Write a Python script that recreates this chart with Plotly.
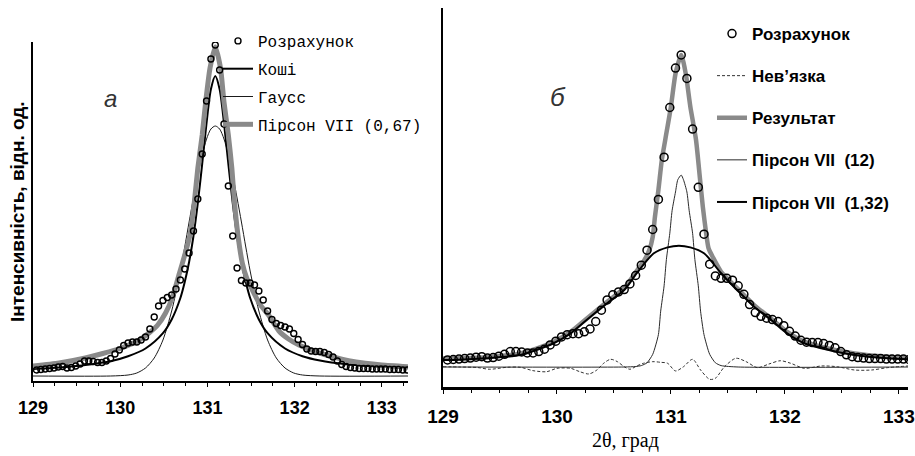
import numpy as np
import plotly.graph_objects as go

# ---------------- data (intensity in arbitrary units) ----------------
two_theta = np.round(129.04 + 0.05 * np.arange(86), 2)
rozrakhunok = [11, 11.5, 12, 12.5, 13, 14, 14.5, 13, 13.5, 15,
               17, 20, 20, 19.5, 18.5, 18.5, 20, 22.5, 27, 31,
               35.5, 38, 39, 39, 41, 44, 52, 64, 75, 80.5,
               83.5, 86, 92, 101, 112, 128, 150, 182, 227, 280,
               322, 336, 311, 257, 195, 145, 113, 100.5, 98, 98,
               96, 90, 81, 70, 61.5, 57.5, 55.5, 54, 52, 47.5,
               41.5, 36.5, 32, 30, 29.5, 29.5, 28.5, 26.5, 24, 20,
               16.5, 14.5, 13.5, 13, 12.5, 12.5, 12.5, 12, 12, 12,
               12, 11.5, 11.5, 11.5, 11, 11]

# panel a: fitted curves
koshi_x = [129.0, 129.3, 129.6, 129.9, 130.09, 130.29, 130.49, 130.59, 130.69, 130.74,
           130.79, 130.84, 130.89, 130.94, 130.99, 131.04, 131.09, 131.14, 131.19, 131.24,
           131.29, 131.34, 131.39, 131.44, 131.49, 131.59, 131.69, 131.89, 132.09, 132.29,
           132.59, 132.9, 133.3]
koshi_y = [12, 13.5, 16, 20, 24.8, 32.5, 47.8, 61.5, 83, 99,
           119, 145, 178, 217, 258, 291.7, 305, 291.7, 258, 217,
           178, 145, 119, 99, 83, 61.5, 47.8, 32.5, 24.8, 20.5,
           16.8, 14.7, 12.7]

gauss_x = [129.0, 129.89, 130.09, 130.19, 130.29, 130.39, 130.49, 130.59, 130.64, 130.69,
           130.74, 130.79, 130.84, 130.89, 130.94, 130.99, 131.04, 131.09, 131.14, 131.19,
           131.24, 131.29, 131.34, 131.39, 131.44, 131.49, 131.54, 131.59, 131.69, 131.79,
           131.89, 131.99, 132.09, 132.29, 133.3]
gauss_y = [5, 5, 6, 8, 13, 23, 41, 70, 89, 110,
           134, 159, 183, 206, 226, 242, 252, 255, 252, 242,
           226, 206, 183, 159, 134, 110, 89, 70, 41, 23,
           13, 8, 6, 5, 5]

pirson067_x = [129.0, 129.3, 129.6, 129.8, 130.0, 130.1, 130.2, 130.33, 130.43, 130.52,
               130.6, 130.68, 130.74, 130.8, 130.85, 130.89, 130.94, 130.98, 131.03, 131.09,
               131.15, 131.19, 131.24, 131.28, 131.31, 131.35, 131.4, 131.45, 131.51, 131.6,
               131.7, 131.82, 131.93, 132.05, 132.24, 132.43, 132.62, 132.81, 133.0, 133.3]
pirson067_y = [15, 18, 23, 27.5, 32.5, 36, 40, 48, 56, 68,
               84, 108, 126, 146, 179, 213, 246, 279, 313, 334,
               313, 279, 246, 213, 179, 146, 118, 103, 92, 77,
               66, 50, 42, 36, 29.3, 24.3, 20.3, 17.7, 16, 14.3]

# panel б: fitted curves
nevyazka_x = [129.0, 129.15, 129.3, 129.41, 129.56, 129.68, 129.79, 129.91, 130.0, 130.12,
              130.2, 130.28, 130.35, 130.41, 130.47, 130.53, 130.59, 130.64, 130.7, 130.76,
              130.84, 130.91, 130.97, 131.04, 131.11, 131.19, 131.26, 131.34, 131.39, 131.47,
              131.57, 131.66, 131.76, 131.86, 131.96, 132.05, 132.17, 132.32, 132.46, 132.61,
              132.76, 132.9, 133.08]
nevyazka_y = [3.8, 3.5, 3.0, 1.1, 3.2, 3.2, -0.4, -1.5, 2.1, 2.1,
              -1.5, -3.9, 0.3, 7.5, 11.7, 9.2, 3.8, 1.1, 4.6, 7.5,
              9.2, 8.5, 7.5, -0.7, 3.8, 11.7, 0.3, -9.6, -8.5, 3.8,
              12.8, 9.2, 2.8, 6.7, 10.2, 7.5, 2.1, 4.6, 3.8, 0.3,
              0.3, 2.8, 4.6]

rezultat_x = [129.0, 129.38, 129.68, 129.82, 129.97, 130.12, 130.26, 130.44, 130.59, 130.7,
              130.76, 130.81, 130.84, 130.86, 130.89, 130.92, 130.95, 131.0, 131.04, 131.09,
              131.13, 131.17, 131.22, 131.25, 131.28, 131.31, 131.33, 131.37, 131.44, 131.58,
              131.73, 131.88, 132.02, 132.17, 132.32, 132.61, 132.9, 133.08]
rezultat_y = [12.5, 14, 18, 23, 30.5, 41, 55, 73, 87.5, 106,
              116, 128, 142, 164, 192, 224, 245.5, 281, 316, 336,
              316, 281, 245.5, 210, 174, 145, 130, 120, 105, 87.5,
              69.5, 55, 41, 30.5, 25, 18, 14.5, 13.5]

pirson12_x = [129.0, 130.59, 130.69, 130.74, 130.79, 130.84, 130.89, 130.91, 130.94, 130.96,
              130.99, 131.01, 131.04, 131.06, 131.09, 131.11, 131.14, 131.16, 131.19, 131.21,
              131.24, 131.26, 131.29, 131.34, 131.39, 131.44, 131.59, 133.08]
pirson12_y = [3.5, 3.5, 4, 5, 8, 17, 38, 63, 90, 118,
              146, 170, 190, 203, 208, 203, 190, 170, 146, 118,
              90, 63, 38, 17, 8, 5, 3.5, 3.5]

pirson132_x = [129.0, 129.09, 129.38, 129.68, 129.82, 129.97, 130.12, 130.26, 130.44, 130.59,
               130.7, 130.85, 130.97, 131.07, 131.17, 131.29, 131.44, 131.58, 131.73, 131.88,
               132.02, 132.17, 132.32, 132.61, 132.9, 133.08]
pirson132_y = [11, 11, 12.8, 16.3, 21.6, 28.8, 39.4, 53.6, 71.4, 85.6,
               103.4, 124.7, 131, 132.8, 131, 124.7, 103.4, 85.6, 67.8, 53.6,
               39.4, 28.8, 23.5, 16.3, 12.8, 11.7]

W, H = 915, 456
GRAY = "#8a8a8a"

fig = go.Figure()

# ---------- panel a ----------
fig.add_trace(go.Scatter(x=gauss_x, y=gauss_y, mode="lines", name="Гаусс",
                         line=dict(color="#1a1a1a", width=1, shape="spline", smoothing=0.8),
                         legend="legend", legendgroup="a3", legendrank=3,
                         xaxis="x", yaxis="y"))
fig.add_trace(go.Scatter(x=koshi_x, y=koshi_y, mode="lines", name="Коші",
                         line=dict(color="black", width=2, shape="spline", smoothing=0.8),
                         legend="legend", legendgroup="a2", legendrank=2,
                         xaxis="x", yaxis="y"))
fig.add_trace(go.Scatter(x=pirson067_x, y=pirson067_y, mode="lines", name="Пірсон VII (0,67)",
                         line=dict(color=GRAY, width=5, shape="spline", smoothing=0.6),
                         legend="legend", legendgroup="a4", legendrank=4,
                         xaxis="x", yaxis="y"))
fig.add_trace(go.Scatter(x=two_theta, y=rozrakhunok, mode="markers", name="Розрахунок",
                         marker=dict(symbol="circle-open", size=6, color="black",
                                     line=dict(width=1.4, color="black")),
                         legend="legend", legendgroup="a1", legendrank=1,
                         xaxis="x", yaxis="y"))

# ---------- panel б ----------
fig.add_trace(go.Scatter(x=nevyazka_x, y=nevyazka_y, mode="lines", name="Нев’язка",
                         line=dict(color="#333333", width=1, dash="3px,2px",
                                   shape="spline", smoothing=0.8),
                         legend="legend2", legendgroup="b2", legendrank=2,
                         xaxis="x2", yaxis="y2"))
fig.add_trace(go.Scatter(x=pirson12_x, y=pirson12_y, mode="lines", name="Пірсон VII  (12)",
                         line=dict(color="#2a2a2a", width=1, shape="spline", smoothing=0.6),
                         legend="legend2", legendgroup="b4", legendrank=4,
                         xaxis="x2", yaxis="y2"))
fig.add_trace(go.Scatter(x=rezultat_x, y=rezultat_y, mode="lines", name="Результат",
                         line=dict(color=GRAY, width=4.5, shape="spline", smoothing=0.6),
                         legend="legend2", legendgroup="b3", legendrank=3,
                         xaxis="x2", yaxis="y2"))
fig.add_trace(go.Scatter(x=pirson132_x, y=pirson132_y, mode="lines", name="Пірсон VII  (1,32)",
                         line=dict(color="black", width=2, shape="spline", smoothing=0.8),
                         legend="legend2", legendgroup="b5", legendrank=5,
                         xaxis="x2", yaxis="y2"))
fig.add_trace(go.Scatter(x=two_theta, y=rozrakhunok, mode="markers", name="Розрахунок",
                         marker=dict(symbol="circle-open", size=8, color="black",
                                     line=dict(width=1.5, color="black")),
                         legend="legend2", legendgroup="b1", legendrank=1,
                         xaxis="x2", yaxis="y2"))

def xaxis_common(domain, rng, lw, fsize):
    return dict(domain=domain, range=rng, showgrid=False, zeroline=False,
                showline=True, linecolor="black", linewidth=lw, automargin=False,
                ticks="outside", ticklen=4, tickwidth=1, tickcolor="black",
                tick0=129, dtick=1, ticklabelstandoff=6,
                tickfont=dict(family="Liberation Sans, Arial", size=fsize,
                              color="black", weight="bold"),
                minor=dict(dtick=0.25, tick0=129, ticks="outside", ticklen=3,
                           tickcolor="black", showgrid=False),
                fixedrange=True)

def yaxis_common(domain, rng, lw, anchor):
    return dict(domain=domain, range=rng, showgrid=False, zeroline=False,
                showline=True, linecolor="black", linewidth=lw, automargin=False,
                showticklabels=False, ticks="", anchor=anchor, fixedrange=True)

fig.update_layout(
    width=W, height=H,
    margin=dict(l=0, r=0, t=0, b=0, autoexpand=False),
    paper_bgcolor="white", plot_bgcolor="white",
    xaxis=xaxis_common([33 / W, 408 / W], [129, 133.3], 1.5, 18) | dict(anchor="y"),
    yaxis=yaxis_common([1 - 381 / H, 1 - 42 / H], [0, 339], 1.5, "x"),
    xaxis2=xaxis_common([443 / W, 908 / W], [129, 133.08], 2.5, 19) | dict(anchor="y2"),
    yaxis2=yaxis_common([1 - 387 / H, 1 - 8 / H], [-17.8, 386], 2, "x2"),
    showlegend=True,
    legend=dict(x=218 / W, y=1 - 24 / H, xanchor="left", yanchor="top",
                bgcolor="rgba(0,0,0,0)", borderwidth=0,
                font=dict(family="Liberation Mono", size=16, color="black"),
                tracegroupgap=4, itemwidth=30, traceorder="grouped"),
    legend2=dict(x=712 / W, y=1 - 16 / H, xanchor="left", yanchor="top",
                 bgcolor="rgba(0,0,0,0)", borderwidth=0,
                 font=dict(family="Liberation Sans", size=17, color="black", weight="bold"),
                 tracegroupgap=17, itemwidth=30, traceorder="grouped"),
    annotations=[
        dict(text="Інтенсивність, відн. од.", xref="paper", yref="paper",
             x=17 / W, y=1 - 212 / H, xanchor="center", yanchor="middle",
             textangle=-90, showarrow=False,
             font=dict(family="Liberation Sans", size=19, color="black", weight="bold")),
        dict(text="2θ, град", xref="paper", yref="paper",
             x=625 / W, y=1 - 440 / H, xanchor="center", yanchor="middle",
             showarrow=False,
             font=dict(family="Liberation Serif", size=20, color="black")),
        dict(text="<i>а</i>", xref="paper", yref="paper",
             x=110 / W, y=1 - 98 / H, xanchor="center", yanchor="middle",
             showarrow=False,
             font=dict(family="Liberation Sans", size=24, color="#333333")),
        dict(text="<i>б</i>", xref="paper", yref="paper",
             x=558 / W, y=1 - 97 / H, xanchor="center", yanchor="middle",
             showarrow=False,
             font=dict(family="Liberation Sans", size=26, color="#333333")),
    ],
)

fig.write_html("out.html")
